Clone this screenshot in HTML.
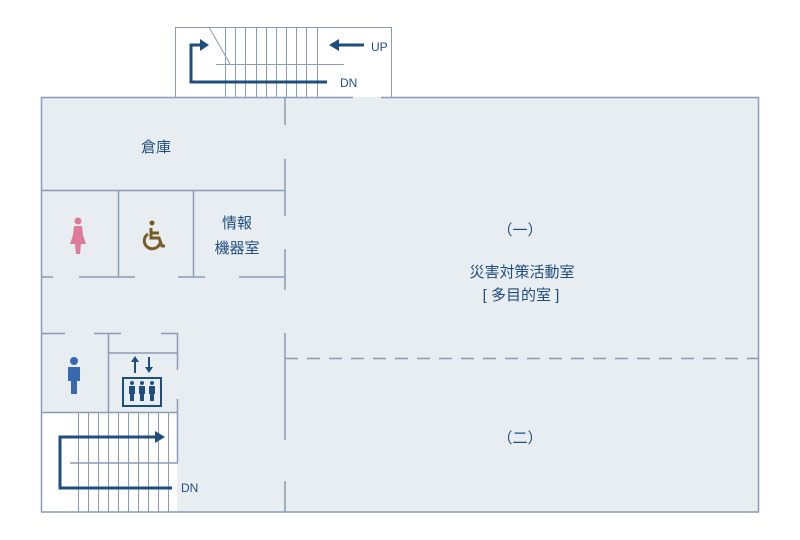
<!DOCTYPE html>
<html><head><meta charset="utf-8"><style>
html,body{margin:0;padding:0;background:#fff;}
svg{display:block;}
text{font-family:"Liberation Sans","Noto Sans CJK JP",sans-serif;fill:#1f4e7e;}
</style></head><body>
<svg width="800" height="540" viewBox="0 0 800 540" xmlns="http://www.w3.org/2000/svg">
<rect x="175.5" y="27.5" width="216" height="70" fill="#fff" stroke="#8a9bb5" stroke-width="1"/>
<rect x="41" y="97" width="718" height="415" fill="#e8edf1"/>
<rect x="41" y="412" width="136" height="100" fill="#fff"/>
<g stroke="#8a9bb5" stroke-width="1.5" fill="none">
<line x1="41" y1="97.5" x2="353" y2="97.5"/>
<line x1="381" y1="97.5" x2="759" y2="97.5"/>
<line x1="41.5" y1="97" x2="41.5" y2="512"/>
<line x1="758.5" y1="97" x2="758.5" y2="512"/>
<line x1="41" y1="512" x2="759" y2="512"/>
<line x1="285" y1="97" x2="285" y2="125"/>
<line x1="285" y1="159" x2="285" y2="216"/>
<line x1="285" y1="249" x2="285" y2="290"/>
<line x1="285" y1="333" x2="285" y2="440"/>
<line x1="285" y1="481" x2="285" y2="512"/>
<line x1="41" y1="190.5" x2="285" y2="190.5"/>
<line x1="118.5" y1="190" x2="118.5" y2="277"/>
<line x1="193.5" y1="190" x2="193.5" y2="277"/>
<line x1="41" y1="277" x2="53" y2="277"/>
<line x1="79" y1="277" x2="135" y2="277"/>
<line x1="178" y1="277" x2="205" y2="277"/>
<line x1="239" y1="277" x2="285" y2="277"/>
<line x1="41" y1="333.5" x2="65" y2="333.5"/>
<line x1="94" y1="333.5" x2="121" y2="333.5"/>
<line x1="161" y1="333.5" x2="178" y2="333.5"/>
<line x1="108.5" y1="333" x2="108.5" y2="412"/>
<line x1="177.5" y1="333" x2="177.5" y2="370"/>
<line x1="177.5" y1="399" x2="177.5" y2="463"/>
<line x1="108" y1="353" x2="178" y2="353"/>
<line x1="41" y1="412.5" x2="178" y2="412.5"/>
<line x1="70" y1="463" x2="178" y2="463"/>
<line x1="285" y1="358.5" x2="759" y2="358.5" stroke-dasharray="13,9"/>
</g>
<g stroke="#8a9bb5" stroke-width="1">
<line x1="78.5" y1="412" x2="78.5" y2="512"/><line x1="88.5" y1="412" x2="88.5" y2="512"/>
<line x1="98.5" y1="412" x2="98.5" y2="512"/><line x1="108.5" y1="412" x2="108.5" y2="512"/>
<line x1="118.5" y1="412" x2="118.5" y2="512"/><line x1="128.5" y1="412" x2="128.5" y2="512"/>
<line x1="138.5" y1="412" x2="138.5" y2="512"/><line x1="148.5" y1="412" x2="148.5" y2="512"/>
<line x1="158.5" y1="412" x2="158.5" y2="512"/><line x1="168.5" y1="412" x2="168.5" y2="512"/>
<line x1="225.5" y1="27" x2="225.5" y2="97"/><line x1="235.5" y1="27" x2="235.5" y2="97"/>
<line x1="245.5" y1="27" x2="245.5" y2="97"/><line x1="256.5" y1="27" x2="256.5" y2="97"/>
<line x1="266.5" y1="27" x2="266.5" y2="97"/><line x1="276.5" y1="27" x2="276.5" y2="97"/>
<line x1="286.5" y1="27" x2="286.5" y2="97"/><line x1="296.5" y1="27" x2="296.5" y2="97"/>
<line x1="306.5" y1="27" x2="306.5" y2="97"/><line x1="317.5" y1="27" x2="317.5" y2="97"/>
<line x1="216" y1="64.5" x2="344" y2="64.5"/>
<line x1="209" y1="27" x2="230" y2="64"/>
</g>
<g stroke="#1f4e7e" stroke-width="3" fill="none">
<polyline points="327,82 191,82 191,45 201,45"/>
<line x1="364" y1="45" x2="338" y2="45"/>
<polyline points="172,488 60,488 60,437 157,437"/>
</g>
<g fill="#1f4e7e">
<polygon points="209,45 200,39 200,51"/>
<polygon points="329,45 339,39 339,51"/>
<polygon points="165,437 155,431 155,443"/>
</g>
<text x="371" y="51" font-size="12">UP</text>
<text x="340" y="87" font-size="12">DN</text>
<text x="181" y="492" font-size="12">DN</text>
<text x="156" y="152" font-size="15" text-anchor="middle">倉庫</text>
<text x="237" y="228" font-size="15" text-anchor="middle">情報</text>
<text x="237" y="253" font-size="15" text-anchor="middle">機器室</text>
<text x="520" y="235" font-size="15" text-anchor="middle">（一）</text>
<text x="522" y="277" font-size="15" text-anchor="middle">災害対策活動室</text>
<text x="521" y="300" font-size="15" text-anchor="middle">[ 多目的室 ]</text>
<text x="520" y="443" font-size="15" text-anchor="middle">（二）</text>
<g fill="#e07a9a">
<circle cx="78" cy="221" r="3.5"/>
<path d="M74,226 h8 l1,9 l3,9 h-5 l-1,10 h-4 l-1,-10 h-5 l3,-9 z"/>
</g>
<g fill="none" stroke="#7a5a28" stroke-width="3">
<circle cx="152" cy="223" r="2" fill="#7a5a28" stroke-width="1"/>
<path d="M151,228 v10 h8 l3,8 h3"/>
<path d="M152,233 h7"/>
<path d="M148,234 a8,8 0 1 0 12,9"/>
</g>
<g fill="#3a68b0">
<circle cx="74" cy="361" r="4"/>
<path d="M68,367 h12 v14 h-3 v13 h-6 v-13 h-3 z"/>
</g>
<g fill="#1f4e7e" stroke="#1f4e7e">
<line x1="135" y1="373" x2="135" y2="361" stroke-width="2"/>
<polygon points="135,356 131,362 139,362" stroke="none"/>
<line x1="149" y1="357" x2="149" y2="368" stroke-width="2"/>
<polygon points="149,373 145,367 153,367" stroke="none"/>
<rect x="123" y="378" width="38" height="28" fill="none" stroke-width="2"/>
<g stroke="none">
<circle cx="132" cy="383" r="2"/><path d="M129,386 h6 v8 h-1 v7 h-4 v-7 h-1 z"/>
<circle cx="142" cy="383" r="2"/><path d="M139,386 h6 v8 h-1 v7 h-4 v-7 h-1 z"/>
<circle cx="152" cy="383" r="2"/><path d="M149,386 h6 v8 h-1 v7 h-4 v-7 h-1 z"/>
</g>
</g>
</svg>
</body></html>
